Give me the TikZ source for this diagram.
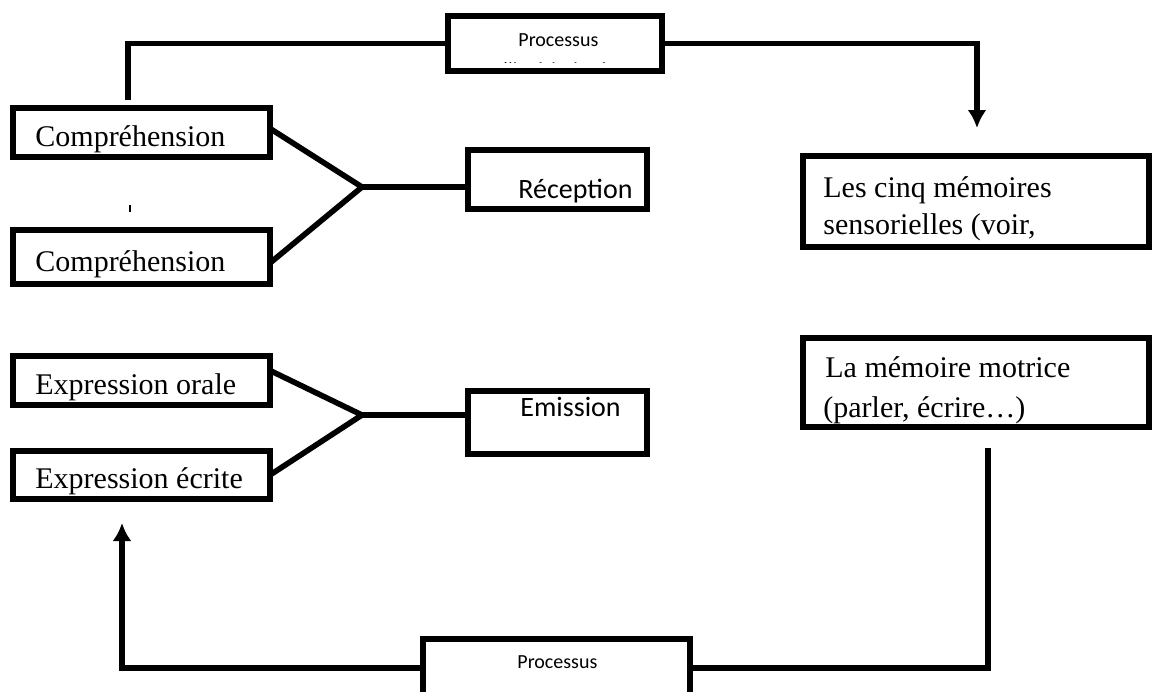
\documentclass[tikz,border=0pt]{standalone}
\usepackage{fontspec}
\setmainfont{Liberation Serif}
\newfontfamily\calibri{Carlito}
\usetikzlibrary{arrows.meta}

\begin{document}
\begin{tikzpicture}[x=0.5pt, y=-0.5pt,
        box/.style={draw, line width=2.8pt, inner sep=0pt, outer sep=0pt, fill=white},
        lbl/.style={inner sep=0pt, anchor=base west, font=\fontsize{15}{18}\selectfont},
        sanslbl/.style={inner sep=0pt, anchor=base west, font=\calibri\fontsize{14}{17}\selectfont},
        smalllbl/.style={inner sep=0pt, anchor=base west, font=\calibri\fontsize{10}{12}\selectfont},
        conn/.style={line width=2.8pt},
        arr/.style={-{Latex[length=9pt,width=9.5pt]}}]
        \useasboundingbox (0,0) rectangle (1154,691);
        % boxes
        \node[box, minimum width=128.5pt, minimum height=24.5pt] (comp1) at (141.5,132.5) {};
        \node[box, minimum width=128.5pt, minimum height=27pt] (comp2) at (141.5,257) {};
        \node[box, minimum width=128.5pt, minimum height=24.5pt] (expo) at (141.5,380.5) {};
        \node[box, minimum width=128.5pt, minimum height=24pt] (expe) at (141.5,475) {};
        \node[box, minimum width=89.5pt, minimum height=29.5pt] (recep) at (557.5,179.5) {};
        \node[box, minimum width=89.5pt, minimum height=31.5pt] (emis) at (557.5,422.5) {};
        \node[box, minimum width=107pt, minimum height=27.5pt] (proc1) at (555,43.5) {};
        \node[box, minimum width=133.5pt, minimum height=29pt] (proc2) at (556.5,668) {};
        \node[box, minimum width=173pt, minimum height=45.5pt] (cinq) at (976,201.5) {};
        \node[box, minimum width=173pt, minimum height=44.5pt] (motr) at (976,382.5) {};
        % free ends
        \coordinate (jrec) at (362,187);
        \coordinate (jemi) at (362,415);
        \coordinate (compTop) at (128,100);
        \coordinate (cinqTip) at (977,128);
        \coordinate (motrBot) at (988,448);
        \coordinate (expeTip) at (122,523);
        % connectors
        \draw[conn] ([yshift=2pt]comp1.east) -- (jrec) -- ([yshift=-3pt]comp2.east);
        \draw[conn] (jrec) -- (jrec -| recep.west);
        \draw[conn] ([yshift=5pt]expo.east) -- (jemi) -- (expe.east);
        \draw[conn] (jemi) -- (jemi -| emis.west);
        \draw[conn] (compTop) |- (proc1.west);
        \draw[conn, arr] (proc1.east) -| (cinqTip);
        \draw[conn] (motrBot) |- (proc2.east);
        \draw[conn, arr] (proc2.west) -| (expeTip);
        \draw[line width=0.6pt] (130,205) -- (130,212);
        % texts
        \node[lbl] (comp1-t) at (35,146) {Compréhension};
        \node[lbl] (comp2-t) at (35,271) {Compréhension};
        \node[lbl] (expo-t) at (35,394) {Expression orale};
        \node[lbl] (expe-t) at (35,488) {Expression écrite};
        \node[sanslbl] (recep-t) at (518,198) {Réception};
        \node[sanslbl] (emis-t) at (520,416) {Emission};
        \node[lbl] (cinq-t1) at (823,197) {Les cinq mémoires};
        \node[lbl] (cinq-t2) at (823,234) {sensorielles (voir,};
        \node[lbl] (motr-t1) at (825,377) {La mémoire motrice};
        \node[lbl] (motr-t2) at (823,417) {(parler, écrire…)};
        \node[smalllbl] (proc1-t) at (518,46) {Processus};
        \begin{scope}
            \clip (450,50) rectangle (660,62);
            \node[smalllbl] (proc1-t2) at (497,76) {d’intériorisation};
        \end{scope}
        \node[smalllbl] (proc2-t) at (517,668) {Processus};
\end{tikzpicture}
\end{document}
